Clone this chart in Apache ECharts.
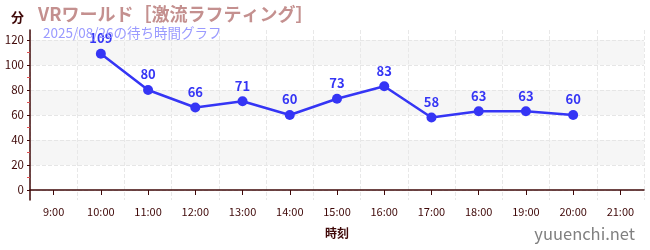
<!DOCTYPE html>
<html><head><meta charset="utf-8">
<script src="https://cdn.jsdelivr.net/npm/echarts@6/dist/echarts.min.js"></script>
<style>html,body{margin:0;padding:0;background:#fff}#c{width:650px;height:250px}</style>
</head><body><div id="c"></div>
<script>
const categories = ['9:00','10:00','11:00','12:00','13:00','14:00','15:00','16:00','17:00','18:00','19:00','20:00','21:00'];
const waitTimes = [null,109,80,66,71,60,73,83,58,63,63,60,null];
const titleText = 'VRワールド［激流ラフティング］';
const subtitleText = '2025/08/26の待ち時間グラフ';
const yName = '分';
const xName = '時刻';
const watermark = 'yuuenchi.net';

const axisColor = '#3f0808';
const font = '"Noto Sans CJK JP","Noto Sans",sans-serif';
const chart = echarts.init(document.getElementById('c'), null, {renderer:'canvas'});
chart.setOption({
  animation:false,
  textStyle:{fontFamily:font},
  title:[
    {text:titleText, left:33, top:0, textStyle:{color:'#c4908f', fontSize:18, fontWeight:'bold', fontFamily:font}},
    {text:subtitleText, left:38, top:21, textStyle:{color:'#9a9aff', fontSize:13.5, fontWeight:'normal', fontFamily:font}},
    {text:watermark, right:10, top:220, textStyle:{color:'#808080', fontSize:16.5, fontWeight:'normal', fontFamily:font}}
  ],
  grid:[
    {left:30, right:6, top:40, bottom:60},
    {left:30, right:6, top:30, bottom:50}
  ],
  xAxis:[
    {gridIndex:0, type:'category', data:categories, boundaryGap:true,
     axisLine:{show:false}, axisTick:{show:false}, axisLabel:{show:false}, splitLine:{show:false}},
    {gridIndex:1, type:'category', data:categories, boundaryGap:true,
     name:xName, nameLocation:'middle', nameGap:27,
     nameTextStyle:{color:axisColor, fontSize:12, fontWeight:'bold'},
     axisLine:{show:true, lineStyle:{color:axisColor, width:1.5}},
     axisTick:{show:true, alignWithLabel:true, length:5, lineStyle:{color:axisColor}},
     axisLabel:{color:axisColor, fontSize:11, margin:6},
     splitLine:{show:true, lineStyle:{color:'#e8e8e8', type:'dashed'}}}
  ],
  yAxis:[
    {gridIndex:0, type:'value', min:0, max:120, interval:20,
     name:yName, nameLocation:'end', nameGap:0,
     nameTextStyle:{color:axisColor, fontSize:13, fontWeight:'bold', align:'right', padding:[0,6,16,0]},
     axisLine:{show:false},
     axisTick:{show:true, length:3, inside:false, lineStyle:{color:axisColor}},
     minorTick:{show:true, splitNumber:2, length:3, lineStyle:{color:'#e05050'}},
     axisLabel:{color:axisColor, fontSize:11.5, margin:6},
     splitLine:{show:true, lineStyle:{color:'#e6e6e6', type:'dashed'}},
     splitArea:{show:true, areaStyle:{color:['rgba(255,255,255,0)','#f6f6f6']}}},
    {gridIndex:1, type:'value', min:-8, max:128,
     axisLine:{show:true, lineStyle:{color:axisColor, width:1.5}},
     axisTick:{show:false}, axisLabel:{show:false}, splitLine:{show:false}}
  ],
  series:[{
    type:'line', xAxisIndex:0, yAxisIndex:0, data:waitTimes,
    symbol:'circle', symbolSize:10,
    lineStyle:{color:'#3535f5', width:2.5},
    itemStyle:{color:'#3535f5'},
    label:{show:true, position:'top', color:'#3535f5', fontWeight:'bold', fontSize:13, distance:4}
  }]
});
</script></body></html>
